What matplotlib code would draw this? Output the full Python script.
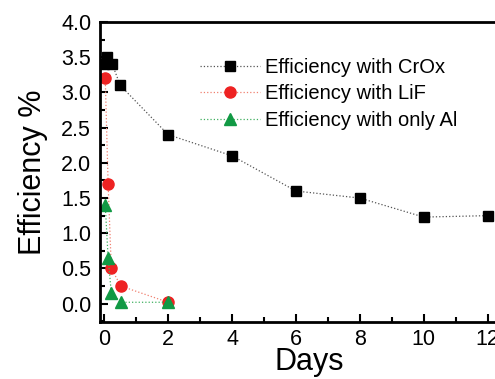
import matplotlib
matplotlib.use("Agg")
import matplotlib.pyplot as plt
from matplotlib.ticker import MultipleLocator

plt.rcParams['font.family'] = ['Liberation Sans', 'DejaVu Sans']

# data
days_crox = [0, 0.1, 0.25, 0.5, 2, 4, 6, 8, 10, 12]
eff_crox = [3.4, 3.5, 3.4, 3.1, 2.4, 2.1, 1.6, 1.5, 1.23, 1.25]
days_lif = [0.03, 0.12, 0.22, 0.52, 2]
eff_lif = [3.2, 1.7, 0.5, 0.25, 0.02]
days_al = [0.03, 0.12, 0.22, 0.52, 2]
eff_al = [1.4, 0.65, 0.15, 0.02, 0.02]

fig = plt.figure(figsize=(4.95, 3.79), dpi=100)
ax = fig.add_axes([99.5/495, 1-322/379, 420/495, 300/379])

ax.plot(days_crox, eff_crox, ls=':', lw=0.9, color='#555555', marker='s', ms=7,
        mfc='black', mec='black', label='Efficiency with CrOx')
ax.plot(days_lif, eff_lif, ls=':', lw=0.9, color='#f08070', marker='o', ms=8,
        mfc='#ee2222', mec='#ee2222', label='Efficiency with LiF')
ax.plot(days_al, eff_al, ls=':', lw=0.9, color='#40b060', marker='^', ms=8,
        mfc='#119944', mec='#119944', label='Efficiency with only Al')

ax.set_xlim(-0.15, 13.0)
ax.set_ylim(-0.26, 4.0)
ax.xaxis.set_major_locator(MultipleLocator(2))
ax.xaxis.set_minor_locator(MultipleLocator(1))
ax.yaxis.set_major_locator(MultipleLocator(0.5))
ax.yaxis.set_minor_locator(MultipleLocator(0.25))
ax.yaxis.set_major_formatter(plt.FormatStrFormatter('%.1f'))
ax.tick_params(which='both', direction='in', top=False, right=False, width=1.5, labelsize=15.5)
ax.tick_params(which='major', length=6, pad=6)
ax.tick_params(axis='x', which='major', pad=5)
ax.tick_params(which='minor', length=3.5)
for s in ax.spines.values():
    s.set_linewidth(2)

ax.set_xlabel('Days', fontsize=22, labelpad=-2)
ax.set_ylabel('Efficiency %', fontsize=22, labelpad=9)

ax.legend(loc='upper left', bbox_to_anchor=(0.195, 0.94), frameon=False, fontsize=14.5,
          handlelength=3.0, labelspacing=0.36, handletextpad=0.25, numpoints=1)

fig.savefig('out.png', dpi=100)
